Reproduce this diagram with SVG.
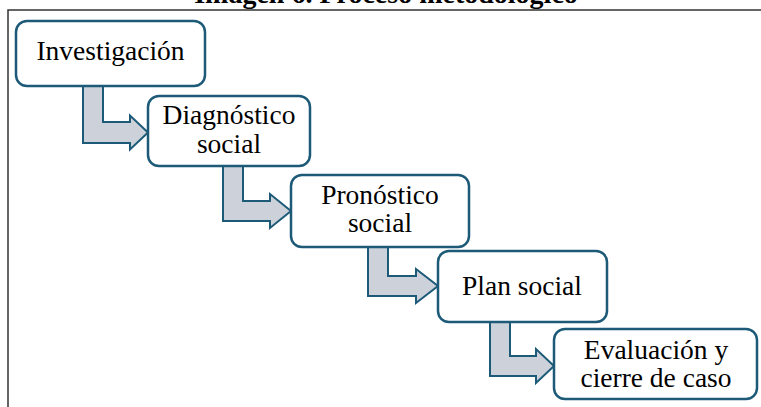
<svg xmlns="http://www.w3.org/2000/svg" width="761" height="407" viewBox="0 0 761 407">
  <style>
    .frame { fill: none; stroke: #333; stroke-width: 1.5; }
    .title { font-family: "Liberation Serif", "Times New Roman", serif; font-weight: bold; font-size: 28px; fill: #000; }
    .box { fill: #fff; stroke: #1d5a78; stroke-width: 2.5; }
    .label { font-family: "Liberation Serif", "Times New Roman", serif; font-size: 27.5px; fill: #000; text-anchor: middle; }
    .step { fill: #cdd2da; stroke: #1d5a78; stroke-width: 2; stroke-linejoin: miter; }
  </style>

  <!-- caption and frame -->
  <text class="title" x="386" y="2.5" text-anchor="middle">Imagen 6. Proceso metodológico</text>
  <path class="frame" d="M8,407 V10 H761"/>

  <!-- bent step arrows -->
  <g id="connectors">
    <path class="step" d="M83,86 V143 H130 V149.5 L148,132.5 L130,115.5 V122 H103 V86 Z"/>
    <path class="step" d="M223,166 V221 H270 V228 L291,211 L270,194 V201 H243 V166 Z"/>
    <path class="step" d="M368,247 V296 H416 V303 L438,286 L416,269 V276 H388 V247 Z"/>
    <path class="step" d="M490,322 V376 H536 V383 L554,366 L536,349 V356 H510 V322 Z"/>
  </g>

  <g id="investigacion">
    <rect class="box" x="16" y="21" width="189" height="65" rx="11"/>
    <text class="label" x="110.5" y="60">Investigación</text>
  </g>
  <g id="diagnostico">
    <rect class="box" x="148" y="96" width="162" height="70" rx="11"/>
    <text class="label" x="229" y="124">Diagnóstico</text>
    <text class="label" x="229" y="153">social</text>
  </g>
  <g id="pronostico">
    <rect class="box" x="291" y="175" width="178" height="72" rx="11"/>
    <text class="label" x="380" y="204">Pronóstico</text>
    <text class="label" x="380" y="232">social</text>
  </g>
  <g id="plan">
    <rect class="box" x="438" y="251" width="169" height="71" rx="11"/>
    <text class="label" x="522" y="294.5">Plan social</text>
  </g>
  <g id="evaluacion">
    <rect class="box" x="554" y="329" width="203" height="70" rx="11"/>
    <text class="label" x="656" y="358.5">Evaluación y</text>
    <text class="label" x="656" y="387">cierre de caso</text>
  </g>
</svg>
